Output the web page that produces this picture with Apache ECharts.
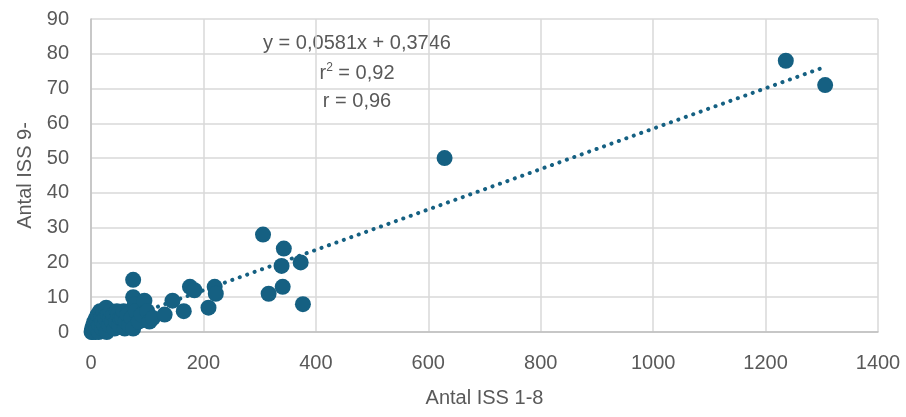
<!DOCTYPE html>
<html>
<head>
<meta charset="utf-8">
<script src="https://cdn.jsdelivr.net/npm/echarts@6/dist/echarts.min.js"></script>
<style>
  html, body { margin: 0; padding: 0; background: #fff; }
  #main { width: 906px; height: 417px; }
</style>
</head>
<body>
<div id="main"></div>
<script>
// antal ISS 1-8 (x) och ISS 9- (y)
var issLow = [1, 2, 3, 4, 5, 6, 8, 9, 10, 12, 12, 14, 15, 16, 18, 20, 20, 22, 24, 25,
  27, 28, 30, 32, 34, 35, 38, 40, 42, 45, 46, 48, 50, 52, 55, 58, 60, 62, 65, 68,
  72, 75, 75, 75, 78, 80, 85, 90, 95, 100, 104, 110, 131, 145, 165, 176, 184, 209,
  220, 222, 306, 316, 339, 341, 343, 373, 377, 629, 1236, 1306];
var issHigh = [0, 1, 0, 2, 1, 3, 0, 4, 1, 3, 5, 0, 2, 6, 4, 1, 3, 6, 2, 4,
  7, 0, 5, 2, 4, 6, 3, 5, 1, 3, 6, 5, 2, 4, 4, 6, 1, 3, 5, 2,
  4, 1, 10, 15, 8, 6, 3, 5, 9, 6, 3, 4, 5, 9, 6, 13, 12, 7,
  13, 11, 28, 11, 19, 13, 24, 20, 8, 50, 78, 71];
// trendlinjens ändpunkter
var trendX = [0, 1306];
var trendY = [0.37, 76.25];
var eqLines = ['y = 0,0581x + 0,3746', '{t|r}{s|2}{t| = 0,92}', 'r = 0,96'];

var points = issLow.map(function (x, i) { return [x, issHigh[i]]; });
var trend = trendX.map(function (x, i) { return [x, trendY[i]]; });

var txt = '#595959';
var chart = echarts.init(document.getElementById('main'));
chart.setOption({
  animation: false,
  textStyle: { fontFamily: 'Liberation Sans' },
  grid: { left: 91, right: 28, top: 19, bottom: 85 },
  xAxis: {
    type: 'value', min: 0, max: 1400, interval: 200,
    name: 'Antal ISS 1-8', nameLocation: 'middle', nameGap: 56,
    nameTextStyle: { color: txt, fontSize: 20 },
    axisLine: { show: true, lineStyle: { color: '#bfbfbf', width: 1.5 } },
    axisTick: { show: false },
    axisLabel: { color: txt, fontSize: 20, margin: 21, formatter: function (v) { return String(v); } },
    splitLine: { lineStyle: { color: '#d9d9d9', width: 1.5 } }
  },
  yAxis: {
    type: 'value', min: 0, max: 90, interval: 10,
    name: 'Antal ISS 9-', nameLocation: 'middle', nameGap: 56,
    nameTextStyle: { color: txt, fontSize: 20 },
    axisLine: { show: true, lineStyle: { color: '#bfbfbf', width: 1.5 } },
    axisTick: { show: false },
    axisLabel: { color: txt, fontSize: 20, margin: 22 },
    splitLine: { lineStyle: { color: '#d9d9d9', width: 1.5 } }
  },
  series: [
    {
      type: 'line', data: trend, symbol: 'none', z: 1,
      lineStyle: { color: '#156082', width: 4, type: [0.1, 7.8], cap: 'round' }
    },
    {
      type: 'scatter', data: points, symbolSize: 16, z: 2,
      itemStyle: { color: '#156082', opacity: 1 }
    }
  ],
  graphic: eqLines.map(function (line, i) {
    return {
      type: 'text', x: 357, y: [43, 73, 101][i],
      style: {
        text: line, fill: txt, font: '20px "Liberation Sans"',
        align: 'center', verticalAlign: 'middle',
        rich: {
          t: { fontSize: 20, fill: txt },
          s: { fontSize: 12, fill: txt, verticalAlign: 'top', padding: [0, 0, 10, 0] }
        }
      }
    };
  })
});
</script>
</body>
</html>
